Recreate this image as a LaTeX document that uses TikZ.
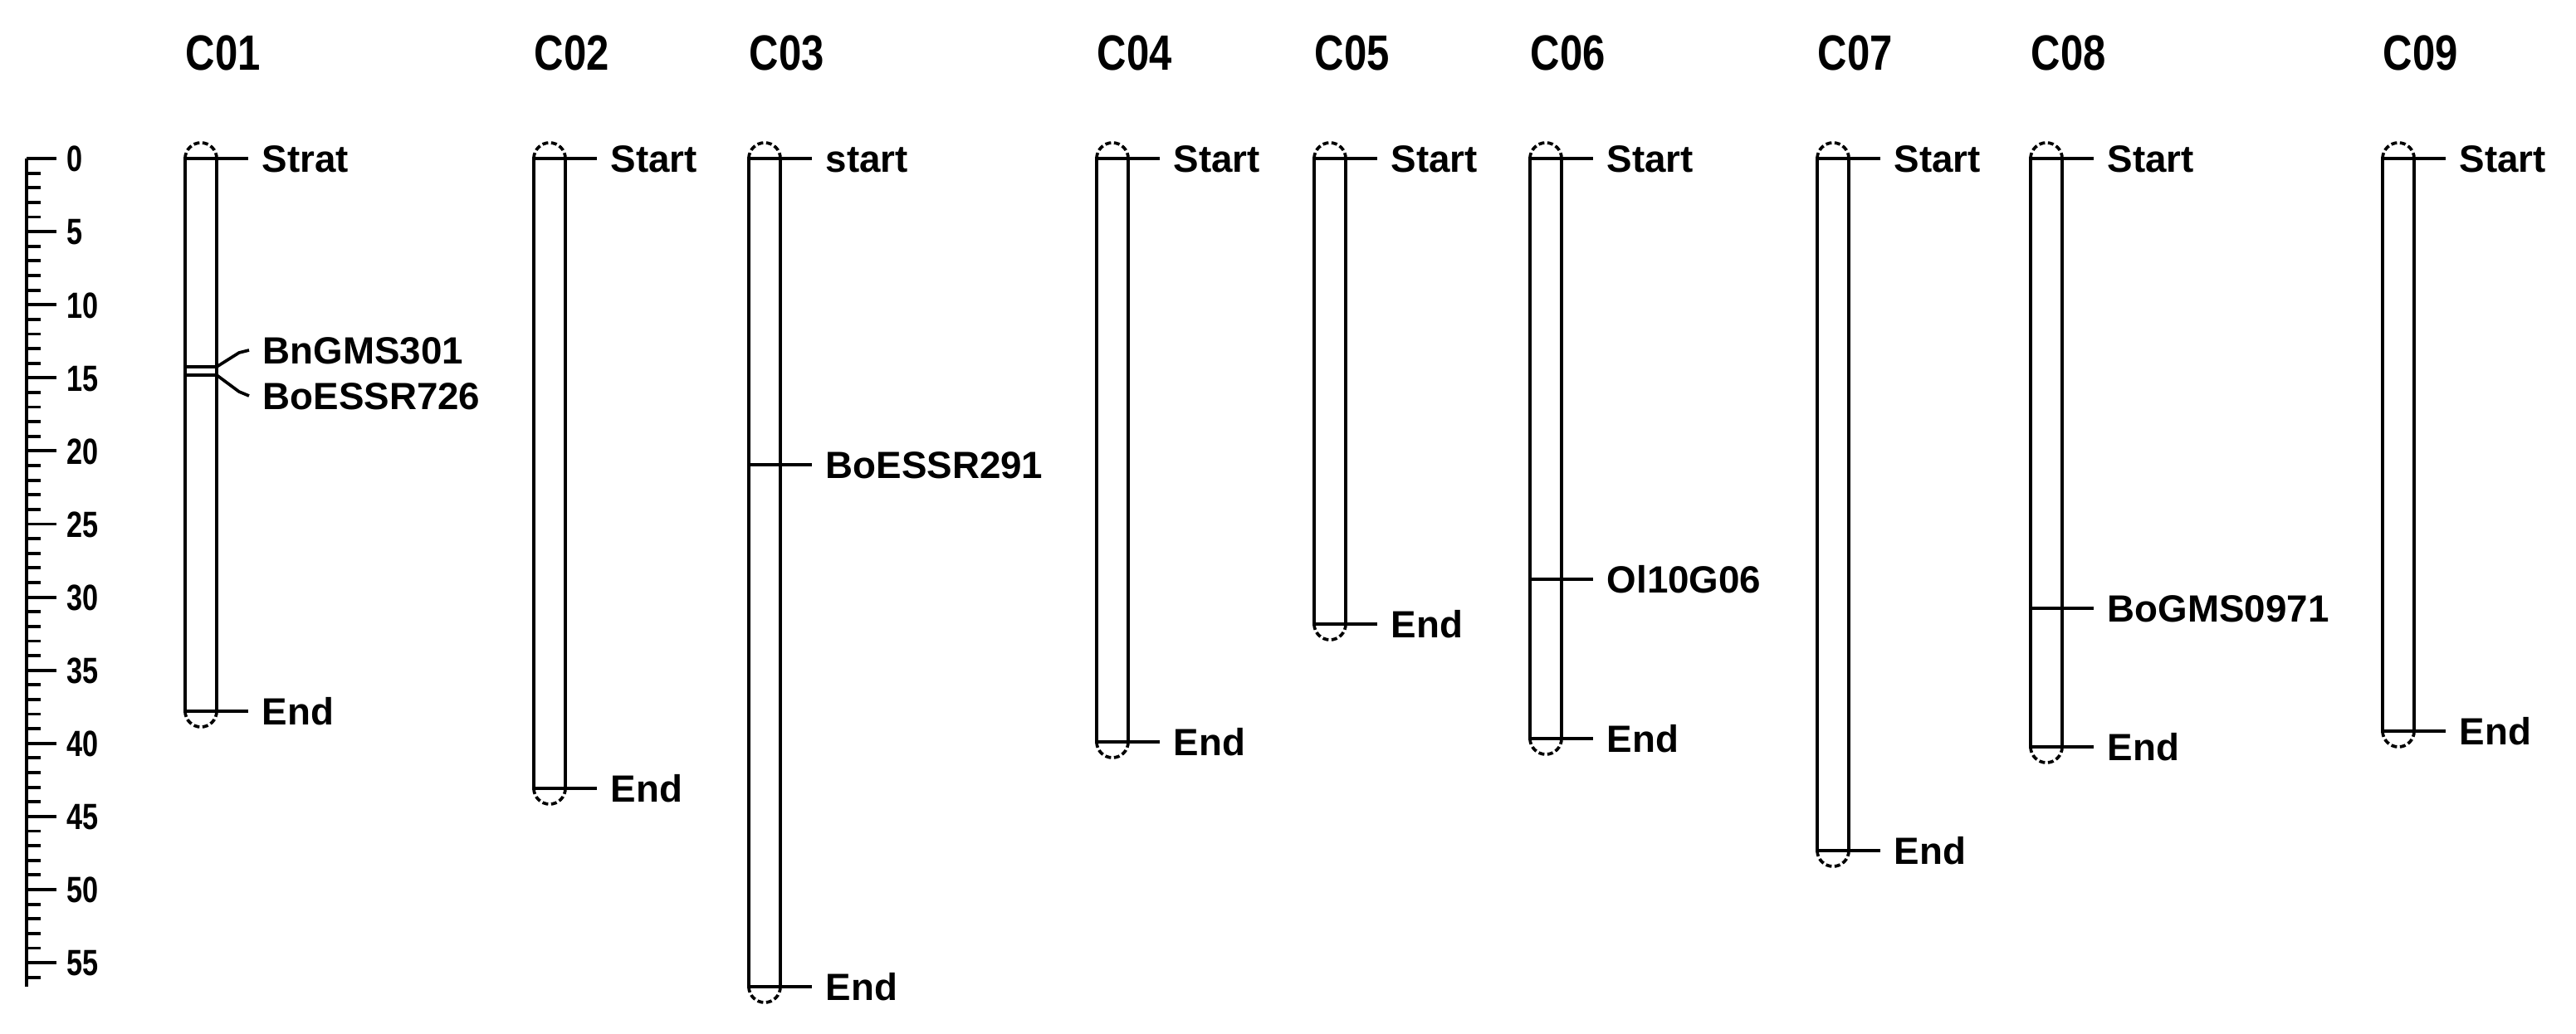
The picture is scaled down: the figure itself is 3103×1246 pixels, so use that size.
\documentclass[tikz,border=0pt]{standalone}
\usepackage{fontspec}
\setmainfont{Liberation Sans}
\tikzset{
  chromline/.style={line width=1.05pt, black},
  capline/.style={line width=1.05pt, dash pattern=on 2pt off 1pt},
  rul/.style={line width=1.4pt},
  tick/.style={line width=1.1pt},
  lab/.style={anchor=west, inner xsep=0.16cm, inner ysep=0pt, font=\fontsize{13}{15}\selectfont\bfseries, text height=9.3pt, text depth=0pt},
  ttl/.style={anchor=west, inner sep=0pt, font=\fontsize{17}{20}\selectfont\bfseries, text height=12.2pt, text depth=0pt},
  num/.style={anchor=west, inner sep=0pt, font=\fontsize{12.5}{15}\selectfont\bfseries, text height=9pt, text depth=0pt},
}
\begin{document}
\begin{tikzpicture}[x=0.01cm,y=-0.01cm]
\useasboundingbox[fill=white] (0,0) rectangle (3103,1246);
% scale ruler
\draw[rul] (32,191) -- (32,1189);
\foreach \i in {0,...,56} {
  \draw[tick] (32,{191+17.62*\i}) -- (49,{191+17.62*\i});
}
\foreach \i in {0,5,...,55} {
  \draw[tick] (32,{191+17.62*\i}) -- (68,{191+17.62*\i});
  \node[num] (n\i) at (80,{191+17.62*\i}) {\scalebox{0.78}[1]{\i}};
}
% chromosomes
\foreach \id/\cx/\yb/\st/\en in {1/242/857/Strat/End, 2/662/950/Start/End, 3/921/1189/start/End, 4/1340/894/Start/End, 5/1602/752/Start/End, 6/1862/890/Start/End, 7/2208/1025/Start/End, 8/2465/900/Start/End, 9/2889/881/Start/End} {
  \draw[chromline] ({\cx-19},191) rectangle ({\cx+19},\yb);
  \draw[capline] ({\cx-19},191) arc[start angle=180,end angle=0,radius=0.19cm];
  \draw[capline] ({\cx-19},\yb) arc[start angle=180,end angle=360,radius=0.19cm];
  \node[ttl] (t\id) at ({\cx-19},63) {\scalebox{0.82}[1]{C0\id}};
  \coordinate (s\id) at ({\cx+19},191);
  \node[lab] (sl\id) at ({\cx+57},191) {\st};
  \draw[chromline] (s\id) -- (sl\id.west);
  \coordinate (e\id) at ({\cx+19},\yb);
  \node[lab] (el\id) at ({\cx+57},\yb) {\en};
  \draw[chromline] (e\id) -- (el\id.west);
}
% markers C01
\draw[chromline] (223,442) -- (261,442);
\coordinate (m1a) at (261,442);
\node[lab] (mk1a) at (300,422) {BnGMS301};
\draw[chromline] (m1a) -- (288,425) -- (mk1a.west);
\draw[chromline] (223,452) -- (261,452);
\coordinate (m1b) at (261,452);
\node[lab] (mk1b) at (300,477) {BoESSR726};
\draw[chromline] (m1b) -- (288,472) -- (mk1b.west);
% marker C03
\draw[chromline] (902,560) -- (940,560);
\coordinate (m3) at (940,560);
\node[lab] (mk3) at (978,560) {BoESSR291};
\draw[chromline] (m3) -- (mk3.west);
% marker C06
\draw[chromline] (1843,698) -- (1881,698);
\coordinate (m6) at (1881,698);
\node[lab] (mk6) at (1919,698) {Ol10G06};
\draw[chromline] (m6) -- (mk6.west);
% marker C08
\draw[chromline] (2446,733) -- (2484,733);
\coordinate (m8) at (2484,733);
\node[lab] (mk8) at (2522,733) {BoGMS0971};
\draw[chromline] (m8) -- (mk8.west);
\end{tikzpicture}
\end{document}
